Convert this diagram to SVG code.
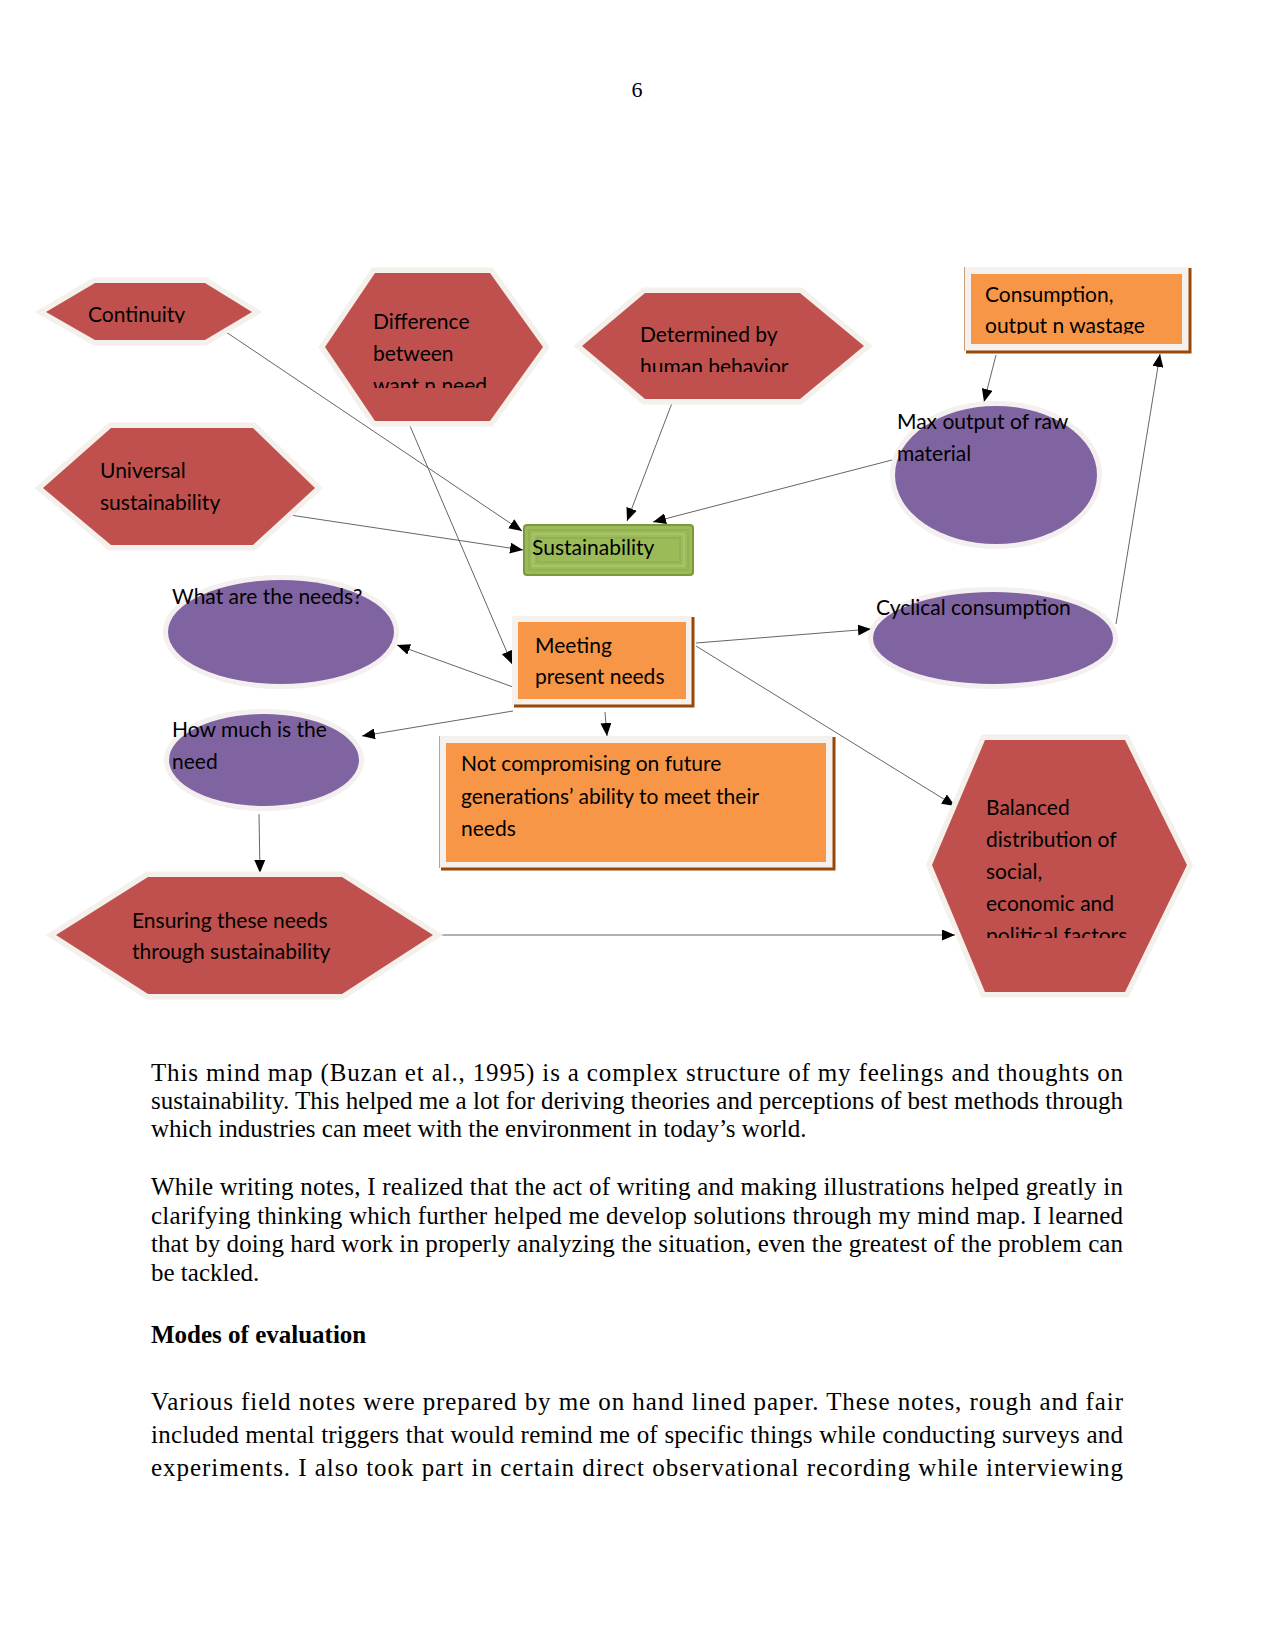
<svg xmlns="http://www.w3.org/2000/svg" width="1275" height="1651" viewBox="0 0 1275 1651">
<style>
.hex{fill:#c0504d;stroke:#f4f0ec;stroke-width:11;stroke-linejoin:miter;paint-order:stroke}
.ell{fill:#8064a2;stroke:#f4f0ef;stroke-width:10;paint-order:stroke}
.frame{fill:#f4f1ee}
.org{fill:#f79646}
.shd{stroke:#984807;stroke-width:3;fill:none}
.lbl{font-family:Lato,"Liberation Sans",sans-serif;font-size:21px;fill:#000}
.body{font-family:"Liberation Serif","Times New Roman",serif;font-size:25px;fill:#000}
.con{stroke:#666;stroke-width:1;fill:none;marker-end:url(#ah)}
</style>
<defs>
<marker id="ah" markerUnits="userSpaceOnUse" markerWidth="13" markerHeight="11" refX="13" refY="5.5" orient="auto">
<path d="M0,0 L13,5.5 L0,11 z" fill="#000"/>
</marker>
<clipPath id="cCont"><rect x="40" y="270" width="220" height="53"/></clipPath>
<clipPath id="cDiff"><rect x="300" y="265" width="250" height="123"/></clipPath>
<clipPath id="cDet"><rect x="575" y="285" width="300" height="87"/></clipPath>
<clipPath id="cCons"><rect x="960" y="265" width="235" height="69"/></clipPath>
<clipPath id="cBal"><rect x="925" y="735" width="270" height="203"/></clipPath>
</defs>
<rect width="1275" height="1651" fill="#fff"/>
<text x="637" y="97" text-anchor="middle" style="font-family:'Liberation Serif',serif;font-size:22px">6</text>

<g id="connectors">
<line class="con" x1="226" y1="332" x2="522" y2="531"/>
<line class="con" x1="290" y1="515" x2="523" y2="550"/>
<line class="con" x1="410" y1="426" x2="512" y2="664"/>
<line class="con" x1="672" y1="403" x2="627" y2="521"/>
<line class="con" x1="892" y1="460" x2="653" y2="522"/>
<line class="con" x1="996" y1="355" x2="984" y2="402"/>
<line class="con" x1="1116" y1="624" x2="1160" y2="354"/>
<line class="con" x1="513" y1="687" x2="397" y2="645"/>
<line class="con" x1="513" y1="711" x2="362" y2="736"/>
<line class="con" x1="605" y1="712" x2="607" y2="736"/>
<line class="con" x1="696" y1="643" x2="871" y2="629"/>
<line class="con" x1="696" y1="646" x2="955" y2="806"/>
<line class="con" x1="259" y1="814" x2="260" y2="873"/>
<line class="con" x1="438" y1="935" x2="955" y2="935"/>
</g>

<g id="continuity">
<polygon class="hex" points="46,312 95,283 205,283 252,312 205,340 95,340"/>
<text class="lbl" x="88" y="322" clip-path="url(#cCont)">Continuity</text>
</g>

<g id="difference">
<polygon class="hex" points="325,347 375,273 490,273 543,347 490,421 375,421"/>
<g clip-path="url(#cDiff)">
<text class="lbl" x="373" y="329">Difference</text>
<text class="lbl" x="373" y="361">between</text>
<text class="lbl" x="373" y="393">want n need</text>
</g>
</g>

<g id="determined">
<polygon class="hex" points="582,346 645,293 800,293 864,346 800,399 645,399"/>
<g clip-path="url(#cDet)">
<text class="lbl" x="640" y="342">Determined by</text>
<text class="lbl" x="640" y="374">human behavior</text>
</g>
</g>

<g id="consumption">
<rect class="frame" x="964" y="267" width="225" height="84"/>
<rect class="org" x="971" y="274" width="211" height="70"/>
<polyline class="shd" points="1190,268 1190,352 966,352"/>
<line x1="964.5" y1="267" x2="964.5" y2="351" stroke="#c9a07a" stroke-width="1"/>
<g clip-path="url(#cCons)">
<text class="lbl" x="985" y="302">Consumption,</text>
<text class="lbl" x="985" y="333">output n wastage</text>
</g>
</g>

<g id="universal">
<polygon class="hex" points="43,488 111,428 253,428 315,488 253,545 111,545"/>
<text class="lbl" x="100" y="478">Universal</text>
<text class="lbl" x="100" y="510">sustainability</text>
</g>

<g id="sustainability">
<rect x="524" y="525" width="169" height="50" rx="3" fill="#9bbb59" stroke="#7a9a3c" stroke-width="2"/>
<rect x="529" y="530" width="159" height="40" fill="none" stroke="#8aa84a" stroke-width="1"/>
<rect x="533" y="534" width="151" height="32" fill="none" stroke="#b2cb7f" stroke-width="1"/>
<rect x="537" y="538" width="143" height="24" fill="none" stroke="#8aa84a" stroke-width="1"/>
<text class="lbl" x="532" y="555">Sustainability</text>
</g>

<g id="maxoutput">
<ellipse class="ell" cx="996" cy="475" rx="101" ry="69"/>
<text class="lbl" x="897" y="429">Max output of raw</text>
<text class="lbl" x="897" y="461">material</text>
</g>

<g id="cyclical">
<ellipse class="ell" cx="993" cy="638" rx="120" ry="46"/>
<text class="lbl" x="876" y="615">Cyclical consumption</text>
</g>

<g id="whatneeds">
<ellipse class="ell" cx="281" cy="632" rx="113" ry="52"/>
<text class="lbl" x="172" y="604">What are the needs?</text>
</g>

<g id="meeting">
<rect class="frame" x="512" y="616" width="180" height="89"/>
<rect class="org" x="518" y="622" width="168" height="77"/>
<polyline class="shd" points="693,617 693,706 514,706"/>
<text class="lbl" x="535" y="653">Meeting</text>
<text class="lbl" x="535" y="684">present needs</text>
</g>

<g id="howmuch">
<ellipse class="ell" cx="264" cy="760" rx="95" ry="46"/>
<text class="lbl" x="172" y="737">How much is the</text>
<text class="lbl" x="172" y="769">need</text>
</g>

<g id="notcompromising">
<rect class="frame" x="439" y="736" width="394" height="132"/>
<rect class="org" x="446" y="743" width="380" height="119"/>
<polyline class="shd" points="834,737 834,869 441,869"/>
<line x1="439.5" y1="736" x2="439.5" y2="868" stroke="#c9a07a" stroke-width="1"/>
<text class="lbl" x="461" y="771">Not compromising on future</text>
<text class="lbl" x="461" y="804">generations’ ability to meet their</text>
<text class="lbl" x="461" y="836">needs</text>
</g>

<g id="balanced">
<polygon class="hex" points="932,865 985,740 1125,740 1187,865 1125,992 985,992"/>
<g clip-path="url(#cBal)">
<text class="lbl" x="986" y="815">Balanced</text>
<text class="lbl" x="986" y="847">distribution of</text>
<text class="lbl" x="986" y="879">social,</text>
<text class="lbl" x="986" y="911">economic and</text>
<text class="lbl" x="986" y="943">political factors</text>
</g>
</g>

<g id="ensuring">
<polygon class="hex" points="56,935 148,877 342,877 433,935 342,994 148,994"/>
<text class="lbl" x="132" y="928">Ensuring these needs</text>
<text class="lbl" x="132" y="959">through sustainability</text>
</g>

<g id="bodytext">
<text class="body" x="151" y="1081" textLength="972" lengthAdjust="spacing">This mind map (Buzan et al., 1995) is a complex structure of my feelings and thoughts on</text>
<text class="body" x="151" y="1109" textLength="972" lengthAdjust="spacing">sustainability. This helped me a lot for deriving theories and perceptions of best methods through</text>
<text class="body" x="151" y="1137">which industries can meet with the environment in today’s world.</text>
<text class="body" x="151" y="1195" textLength="972" lengthAdjust="spacing">While writing notes, I realized that the act of writing and making illustrations helped greatly in</text>
<text class="body" x="151" y="1224" textLength="972" lengthAdjust="spacing">clarifying thinking which further helped me develop solutions through my mind map. I learned</text>
<text class="body" x="151" y="1252" textLength="972" lengthAdjust="spacing">that by doing hard work in properly analyzing the situation, even the greatest of the problem can</text>
<text class="body" x="151" y="1281">be tackled.</text>
<text class="body" x="151" y="1343" font-weight="bold">Modes of evaluation</text>
<text class="body" x="151" y="1410" textLength="972" lengthAdjust="spacing">Various field notes were prepared by me on hand lined paper. These notes, rough and fair</text>
<text class="body" x="151" y="1443" textLength="972" lengthAdjust="spacing">included mental triggers that would remind me of specific things while conducting surveys and</text>
<text class="body" x="151" y="1476" textLength="972" lengthAdjust="spacing">experiments. I also took part in certain direct observational recording while interviewing</text>
</g>
</svg>
